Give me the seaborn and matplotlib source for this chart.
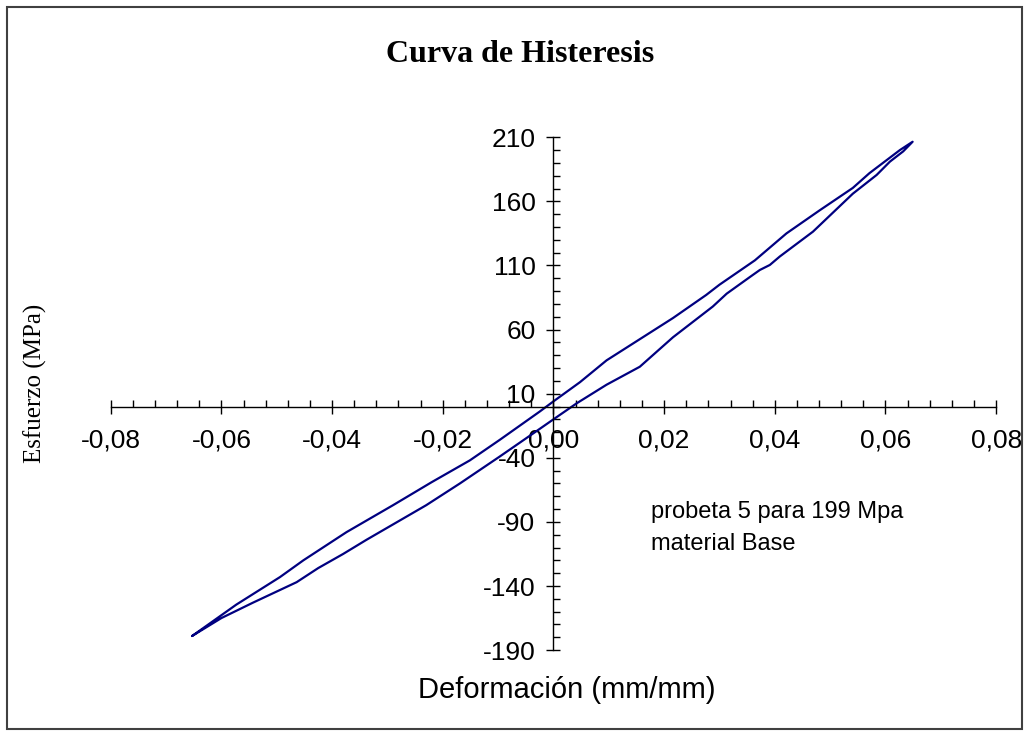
import numpy as np
import pandas as pd
import matplotlib
matplotlib.use("Agg")
import matplotlib.pyplot as plt
from matplotlib.ticker import MultipleLocator, FixedLocator, FuncFormatter
from matplotlib.patches import Rectangle
import seaborn as sns

# rama de carga (lado derecho del lazo), deformacion creciente
carga_def = [-0.0653, -0.0600, -0.0543, -0.0464, -0.0425, -0.0380, -0.0338, -0.0290,
             -0.0230, -0.0169, -0.0097, -0.0040, 0.0000, 0.0042, 0.0096, 0.0156,
             0.0216, 0.0288, 0.0313, 0.0355, 0.0373, 0.0391, 0.0409, 0.0469,
             0.0541, 0.0584, 0.0608, 0.0632, 0.0649]
carga_esf = [-179, -165, -153, -137, -126, -115, -104, -92,
             -77, -60, -39, -22, -10, 2.5, 17, 31,
             54, 78, 88, 101, 106.5, 110.4, 117, 136.4,
             166, 180.6, 191, 199, 206.5]

# rama de descarga (lado izquierdo del lazo), deformacion decreciente
descarga_def = [0.0649, 0.0626, 0.0571, 0.0541, 0.0481, 0.0421, 0.0364, 0.0300,
                0.0276, 0.0216, 0.0096, 0.0048, 0.0000, -0.0025, -0.0097, -0.0151,
                -0.0220, -0.0290, -0.0350, -0.0374, -0.0452, -0.0494, -0.0573, -0.0653]
descarga_esf = [206.5, 200, 182, 170.5, 153, 135, 114, 95,
                87, 69, 36, 19, 4, -4, -26, -42,
                -59, -77, -92, -98, -120, -133, -154.5, -179]

x_ticks = [-0.08, -0.06, -0.04, -0.02, 0.0, 0.02, 0.04, 0.06, 0.08]
y_ticks = [210, 160, 110, 60, 10, -40, -90, -140, -190]

df = pd.DataFrame({
    "def": carga_def + descarga_def,
    "esf": carga_esf + descarga_esf,
})

sns.set_style("white")
plt.rcParams["font.family"] = ["Liberation Sans", "DejaVu Sans"]
plt.rcParams["text.color"] = "black"
plt.rcParams["axes.labelcolor"] = "black"

fig = plt.figure(figsize=(10.29, 7.36), dpi=100)
ax = fig.add_axes([0.1076, 0.1167, 0.8605, 0.6968])

sns.lineplot(data=df, x="def", y="esf", sort=False, estimator=None,
             color="#000080", linewidth=1.6, ax=ax)

ax.set_xlim(-0.08, 0.08)
ax.set_ylim(-190, 210)

# ejes cruzando en el origen
ax.spines["left"].set_position(("data", 0))
ax.spines["bottom"].set_position(("data", 0))
ax.spines["top"].set_visible(False)
ax.spines["right"].set_visible(False)
for s in ["left", "bottom"]:
    ax.spines[s].set_color("black")
    ax.spines[s].set_linewidth(1)

ax.xaxis.set_major_locator(FixedLocator(x_ticks))
ax.xaxis.set_minor_locator(MultipleLocator(0.004))
ax.yaxis.set_major_locator(FixedLocator(y_ticks))
ax.yaxis.set_minor_locator(MultipleLocator(10))
ax.xaxis.set_major_formatter(FuncFormatter(lambda v, p: f"{v:.2f}".replace(".", ",").replace("-0,00", "0,00")))
ax.yaxis.set_major_formatter(FuncFormatter(lambda v, p: f"{v:.0f}"))

ax.tick_params(axis="both", which="both", bottom=True, left=True, top=False, right=False)
ax.tick_params(axis="both", which="major", direction="inout", length=10, width=1,
               color="black", labelsize=19, labelcolor="black")
ax.tick_params(axis="x", which="major", pad=11)
ax.tick_params(axis="y", which="major", pad=8)
ax.tick_params(axis="both", which="minor", direction="in", length=5, width=1, color="black")
ax.grid(False)

ax.set_xlabel("Deformación (mm/mm)", fontsize=21)
ax.xaxis.set_label_coords(0.515, -0.078)
ax.xaxis.label.set_va("center")
ax.set_ylabel("Esfuerzo (MPa)", fontsize=18, family=["Liberation Serif", "DejaVu Serif"])
ax.yaxis.set_label_coords(-0.0855, 0.521)
ax.yaxis.label.set_va("center")

ax.text(0.0176, -94.5, "probeta 5 para 199 Mpa\nmaterial Base", fontsize=17,
        ha="left", va="center", linespacing=1.6)

fig.text(520 / 1029, 1 - 54 / 736, "Curva de Histeresis", fontsize=23, fontweight="bold",
         family=["Liberation Serif", "DejaVu Serif"], ha="center", va="center")

# marco del grafico
fig.patches.append(Rectangle((7 / 1029, 7 / 736), 1015 / 1029, 722 / 736,
                             transform=fig.transFigure, fill=False,
                             edgecolor="#404040", linewidth=1.5))

fig.savefig("out.png", dpi=100)
